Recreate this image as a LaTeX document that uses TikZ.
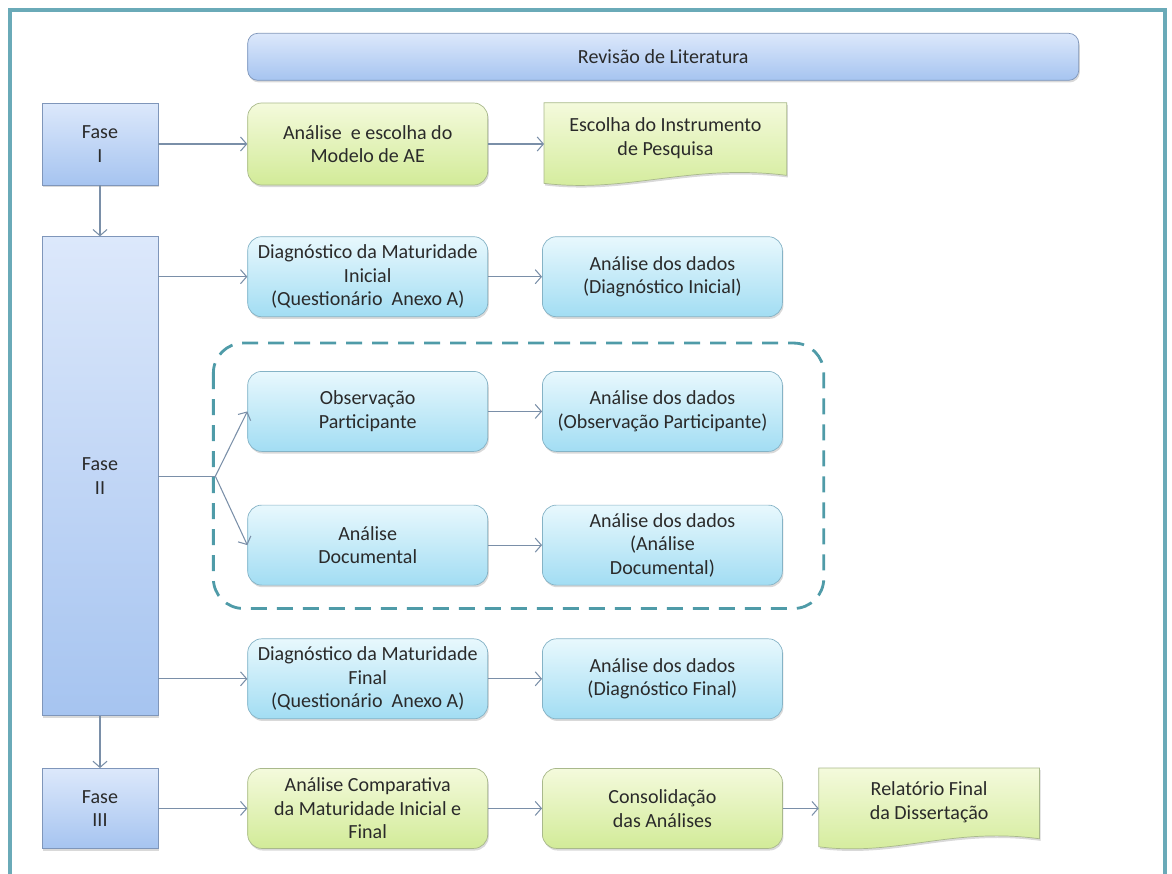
\documentclass[tikz,border=0pt]{standalone}
\usepackage{fontspec}
\setmainfont{Carlito}
\usetikzlibrary{arrows.meta,positioning,shadows,backgrounds,calc}

\definecolor{txt}{HTML}{2A2A2A}
\definecolor{framec}{HTML}{6AAAB8}
\definecolor{dashc}{HTML}{4F9BA8}
\definecolor{arrowc}{HTML}{7A8FA8}
\definecolor{bluetop}{HTML}{DCE8FB}
\definecolor{bluebot}{HTML}{A6C4F0}
\definecolor{blueline}{HTML}{7F96BA}
\definecolor{greentop}{HTML}{F4FADC}
\definecolor{greenbot}{HTML}{D2EB98}
\definecolor{greenline}{HTML}{A9B98C}
\definecolor{cyantop}{HTML}{E8F8FD}
\definecolor{cyanbot}{HTML}{A2DDF3}
\definecolor{cyanline}{HTML}{85B3C6}

\tikzset{
  box/.style={minimum width=4.8cm, minimum height=1.6cm, align=center, text=txt,
    font=\fontsize{11.4}{13.4}\selectfont,
    drop shadow={opacity=0.3, shadow xshift=0.6pt, shadow yshift=-1.2pt}},
  fasebox/.style={box, draw=blueline, top color=bluetop, bottom color=bluebot, minimum width=2.32cm},
  greenbox/.style={box, rounded corners=0.28cm, draw=greenline, top color=greentop, bottom color=greenbot},
  cyanbox/.style={box, rounded corners=0.28cm, draw=cyanline, top color=cyantop, bottom color=cyanbot},
  docbox/.style={minimum width=4.8cm, minimum height=1.4cm, align=center, text=txt,
    font=\fontsize{11.4}{13.4}\selectfont},
  docshape/.style={draw=greenline, top color=greentop, bottom color=greenbot,
    drop shadow={opacity=0.3, shadow xshift=0.6pt, shadow yshift=-1.2pt}},
  flow/.style={draw=arrowc, line width=0.6pt},
}

\begin{document}
\begin{tikzpicture}[x=1cm, y=1cm, >={Straight Barb[length=3.5pt,width=8pt]}]
    \useasboundingbox (0,0) rectangle (23.44,-17.46);
    \draw[framec, line width=2pt] (0.2,-0.2) rectangle (23.3,-17.8);

    \node[fasebox, minimum height=1.64cm] (fase1) at (2.0,-2.88) {Fase\\I};
    \node[greenbox, minimum height=1.64cm, right=1.78cm of fase1] (modelo) {Análise\ \ e escolha do\\Modelo de AE};
    \node[box, rounded corners=0.2cm, draw=blueline, top color=bluetop, bottom color=bluebot,
      minimum width=16.62cm, minimum height=0.94cm, above=0.44cm of modelo.north west, anchor=south west] (revisao) {Revisão de Literatura};
    \node[docbox, minimum width=4.84cm, right=1.12cm of modelo.north east, anchor=north west] (instr) {Escolha do Instrumento\\de Pesquisa};

    \node[fasebox, minimum height=9.58cm, below=1.02cm of fase1] (fase2) {Fase\\II};
    \node[cyanbox, right=1.78cm of fase2.north east, anchor=north west] (diagini) {Diagnóstico da Maturidade\\Inicial\\(Questionário\ \ Anexo A)};
    \node[cyanbox, right=1.08cm of diagini] (dadosini) {Análise dos dados\\(Diagnóstico Inicial)};
    \node[cyanbox, below=1.08cm of diagini] (obs) {Observação\\Participante};
    \node[cyanbox, right=1.08cm of obs] (dadosobs) {Análise dos dados\\(Observação Participante)};
    \node[cyanbox, below=1.06cm of obs] (doc) {Análise\\Documental};
    \node[cyanbox, right=1.08cm of doc] (dadosdoc) {Análise dos dados\\(Análise\\Documental)};
    \node[cyanbox, below=1.06cm of doc] (diagfin) {Diagnóstico da Maturidade\\Final\\(Questionário\ \ Anexo A)};
    \node[cyanbox, right=1.08cm of diagfin] (dadosfin) {Análise dos dados\\(Diagnóstico Final)};

    \node[fasebox, below=1.04cm of fase2] (fase3) {Fase\\III};
    \node[greenbox, right=1.78cm of fase3] (comp) {Análise Comparativa\\da Maturidade Inicial e\\Final};
    \node[greenbox, right=1.08cm of comp] (consol) {Consolidação\\das Análises};
    \node[docbox, minimum width=4.4cm, minimum height=1.36cm, right=0.72cm of consol.north east, anchor=north west] (relat) {Relatório Final\\da Dissertação};

    % document shapes with wavy bottom
    \begin{scope}[on background layer]
    \foreach \d in {instr, relat} {
      \shade[docshape] (\d.north west) -- (\d.north east) -- ([yshift=-0.04cm]\d.south east)
        .. controls ($(\d.south west)!0.6!(\d.south east)+(0,0.2)$) and ($(\d.south west)!0.35!(\d.south east)+(0,-0.4)$) ..
        ([yshift=-0.2cm]\d.south west) -- cycle;
    }
    \end{scope}

    % grouping of the parallel analyses
    \draw[dashc, line width=1.6pt, dash pattern=on 0.32cm off 0.2cm, rounded corners=0.6cm]
      ([shift={(-0.68cm,0.56cm)}]obs.north west) rectangle ([shift={(0.82cm,-0.46cm)}]dadosdoc.south east);

    \draw[flow,->] (fase1) -- (modelo);
    \draw[flow,->] (modelo.east) -- (modelo.east -| instr.west);
    \draw[flow,->] (fase1) -- (fase2);
    \draw[flow,->] (fase2.east |- diagini) -- (diagini.west);
    \draw[flow,->] (diagini) -- (dadosini);
    \coordinate (split) at ([xshift=1.14cm]fase2.east);
    \draw[flow] (fase2.east) -- (split);
    \draw[flow,->] (split) -- (obs.west);
    \draw[flow,->] (split) -- (doc.west);
    \draw[flow,->] (obs) -- (dadosobs);
    \draw[flow,->] (doc) -- (dadosdoc);
    \draw[flow,->] (fase2.east |- diagfin) -- (diagfin.west);
    \draw[flow,->] (diagfin) -- (dadosfin);
    \draw[flow,->] (fase2) -- (fase3);
    \draw[flow,->] (fase3) -- (comp);
    \draw[flow,->] (comp) -- (consol);
    \draw[flow,->] (consol.east) -- (consol.east -| relat.west);
\end{tikzpicture}
\end{document}
